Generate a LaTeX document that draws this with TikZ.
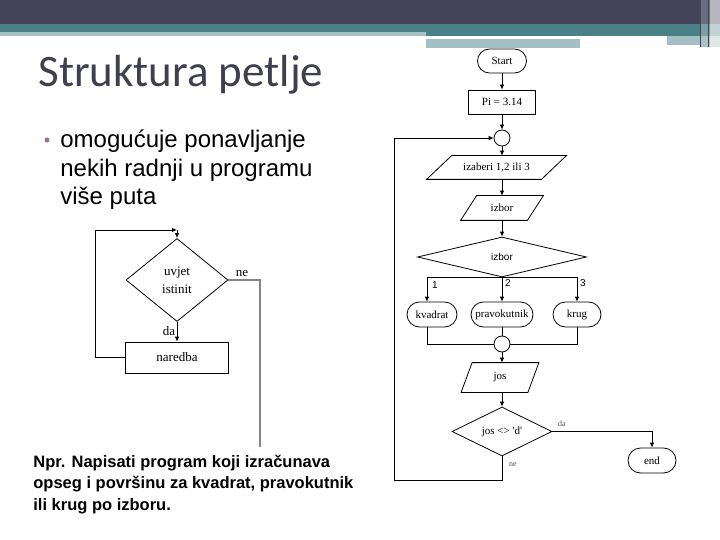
\documentclass[tikz,border=0pt]{standalone}
\usepackage{fontspec}
\setmainfont{Liberation Serif}
\newfontfamily\arialf{Liberation Sans}
\newfontfamily\titlef{Carlito}
\usetikzlibrary{shapes.geometric,shapes.misc,arrows.meta}
\definecolor{hdark}{HTML}{434457}
\definecolor{hteal}{HTML}{4A8187}
\definecolor{hlight}{HTML}{A5C0C4}
\definecolor{titlec}{HTML}{3F3F4F}
\definecolor{bulc}{HTML}{9C6FA8}
\definecolor{negray}{HTML}{858585}
\definecolor{sa}{HTML}{6E6D80}
\definecolor{sb}{HTML}{B7B5C0}
\definecolor{sc}{HTML}{7AA0A4}
\definecolor{sd}{HTML}{C0D3D5}
\definecolor{se}{HTML}{A9C2C4}
\definecolor{sf}{HTML}{DFE7E8}
\newcommand{\drawpara}[2]{\draw ([xshift=#2]#1.north west) -- ([xshift=#2]#1.north east) -- ([xshift=-#2]#1.south east) -- ([xshift=-#2]#1.south west) -- cycle;}
\begin{document}
\begin{tikzpicture}[x=1pt,y=-1pt,line width=0.8pt,
  arr/.style={-{Latex[length=5pt,width=4.5pt]}},
  fc/.style={font=\fontsize{11}{13}\selectfont},
  term/.style={rounded rectangle, draw, minimum height=25, inner sep=1pt, fc},
  pbox/.style={rectangle, draw, inner sep=1pt, fc},
  pnode/.style={rectangle, inner sep=1pt, fc},
  conn/.style={circle, draw, minimum size=16, inner sep=0},
  lbl/.style={inner sep=0, font=\fontsize{8}{9}\selectfont, text=black!70},
  numl/.style={inner sep=0, font=\arialf\fontsize{10}{11}\selectfont},
  lfont/.style={font=\fontsize{13}{18}\selectfont},
  bullettxt/.style={anchor=base west, inner sep=0, font=\arialf\fontsize{24}{28}\selectfont},
  bottomtxt/.style={anchor=base west, inner sep=0, font=\arialf\bfseries\fontsize{16.5}{20}\selectfont}]
\useasboundingbox (0,0) rectangle (720,540);
% header
\fill[hdark] (0,0) rectangle (720,24);
\fill[hteal] (0,24) rectangle (700,32);
\fill[hlight] (0,32) rectangle (426,36);
\fill[hteal] (426,32) rectangle (700,36);
\fill[hlight] (426,39) rectangle (580,48);
\fill[hlight] (667,36) rectangle (700,45);
\fill[sa] (700,0) rectangle (710,24);
\fill[sb] (710,0) rectangle (720,24);
\fill[sc] (700,24) rectangle (710,36);
\fill[sd] (710,24) rectangle (720,36);
\fill[se] (700,36) rectangle (710,47);
\fill[sf] (710,36) rectangle (720,47);
\draw[color=hdark,line width=1pt] (700.5,0) -- (700.5,47);
\draw[color=hdark,line width=1pt] (708.5,0) -- (708.5,47);
% title
\node[anchor=base west, inner sep=0, text=titlec, font=\titlef\fontsize{45}{48}\selectfont] (title) at (38,87) {Struktura petlje};
% bullet
\node[circle, fill=bulc, minimum size=5, inner sep=0] (bul) at (47,140) {};
\node[bullettxt] (bl1) at (60,148) {omogućuje ponavljanje};
\node[bullettxt] (bl2) at (60,177) {nekih radnji u programu};
\node[bullettxt] (bl3) at (60,205) {više puta};
% bottom text
\node[bottomtxt] (tl1) at (33,467) {Npr. Napisati program koji izračunava};
\node[bottomtxt] (tl2) at (33,488.5) {opseg i površinu za kvadrat, pravokutnik};
\node[bottomtxt] (tl3) at (33,510) {ili krug po izboru.};
% left flowchart
\node[diamond, draw, minimum width=102, minimum height=83, inner sep=0, aspect=1.2, align=center, lfont] (cond) at (177,280) {uvjet\\istinit};
\node[rectangle, draw, minimum width=103, minimum height=31, lfont] (nar) at (177,357.5) {naredba};
\coordinate (lt) at (177,230);
\coordinate (ll) at (95,357.5);
\coordinate (nee) at (260,447);
\draw[arr] (nar.west) -- (ll) |- (lt);
\draw[arr] (lt) -- (cond.north);
\draw[arr] (cond.south) -- (nar.north);
\draw[negray, line width=1.3pt] (cond.east) -| (nee);
\node[inner sep=0, lfont] (lda) at (169,331) {da};
\node[inner sep=0, lfont] (lne) at (242,274) {ne};
% right flowchart
\node[term, minimum width=51, minimum height=24] (start) at (502,61) {Start};
\node[pbox, minimum width=67, minimum height=24] (pi) at (502,102) {Pi = 3.14};
\node[conn] (c1) at (502,138) {};
\node[pnode, minimum width=114, minimum height=23] (p1) at (496.5,167.5) {izaberi 1,2 ili 3};
\drawpara{p1}{12.5pt}
\node[pnode, minimum width=66, minimum height=24] (p2) at (502,208) {izbor};
\drawpara{p2}{8pt}
\node[diamond, draw, minimum width=169, minimum height=40, inner sep=0, aspect=4, font=\arialf\fontsize{10}{12}\selectfont] (d1) at (502,257) {izbor};
\node[term, minimum width=52] (t1) at (432,314.5) {kvadrat};
\node[term, minimum width=64] (t2) at (502,314.5) {pravokutnik};
\node[term, minimum width=50] (t3) at (577,314.5) {krug};
\node[conn] (c2) at (502,344) {};
\node[pnode, minimum width=66, minimum height=29] (p3) at (500,377.5) {jos};
\drawpara{p3}{5.5pt}
\node[diamond, draw, minimum width=100, minimum height=49, inner sep=0, aspect=2, fc] (d2) at (502,431.5) {jos <> \textquotesingle d\textquotesingle};
\node[term, minimum width=50] (t4) at (652,460.5) {end};
\coordinate (b1) at (427,277);
\coordinate (b3) at (577,277);
\coordinate (lb) at (394,480);
\draw[arr] (start.south) -- (pi.north);
\draw[arr] (pi.south) -- (c1.north);
\draw[arr] (c1.south) -- (c1.south |- p1.north);
\draw[arr] (c1.south |- p1.south) -- (p2.north);
\draw[arr] (p2.south) -- (d1.north);
\draw (b1) -- (b3);
\draw[arr] (b1) -- (b1 |- t1.north);
\draw[arr] (d1.south) -- (t2.north);
\draw[arr] (b3) -- (b3 |- t3.north);
\draw (b1 |- t1.south) |- (c2.west);
\draw (b3 |- t3.south) |- (c2.east);
\draw (t2.south) -- (c2.north);
\draw[arr] (c2.south) -- (c2.south |- p3.north);
\draw[arr] (p3.south -| d2.north) -- (d2.north);
\draw[arr] (d2.east) -| (t4.north);
\draw[arr] (d2.south) |- (lb) |- (c1.west);
\node[numl] (n1) at (435,285) {1};
\node[numl] (n2) at (508,283) {2};
\node[numl] (n3) at (583,283) {3};
\node[lbl] (rda) at (562,424) {da};
\node[lbl] (rne) at (513,465) {ne};
\end{tikzpicture}
\end{document}
